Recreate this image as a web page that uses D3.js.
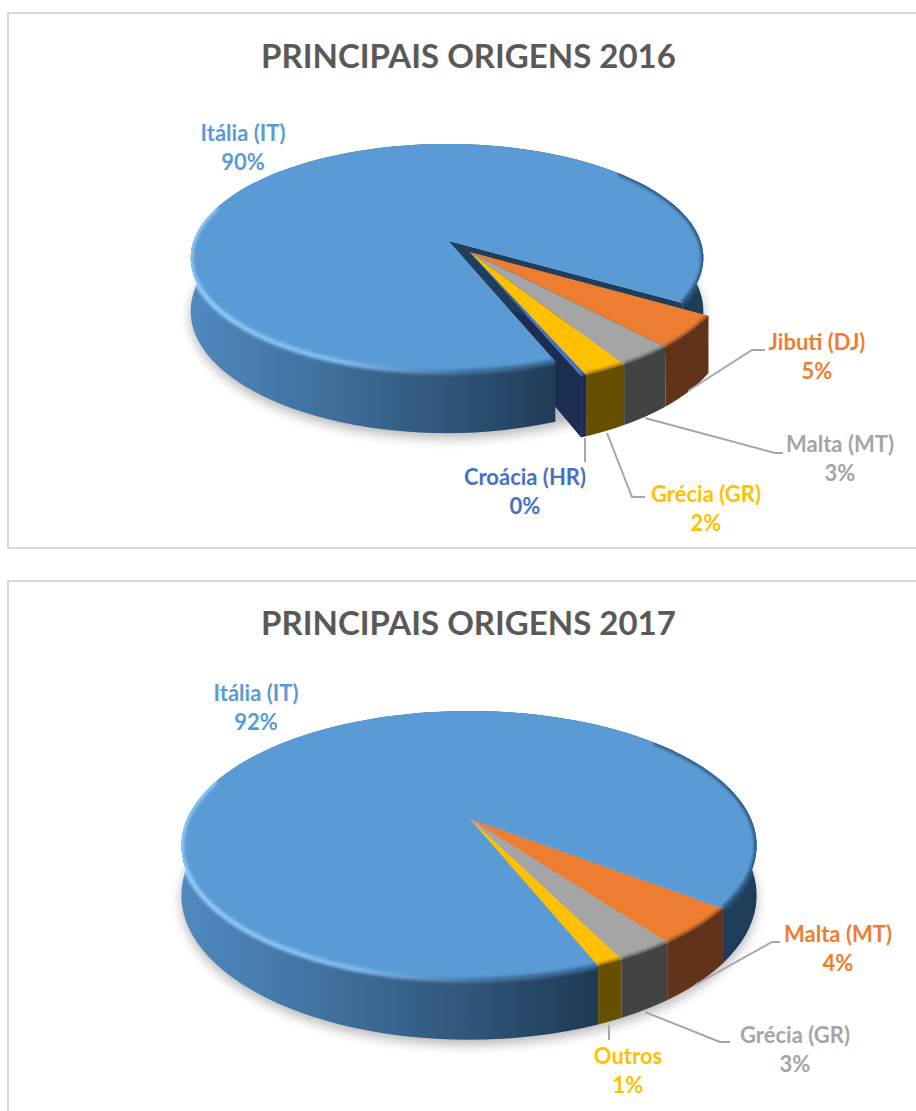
<!DOCTYPE html>
<html><head><meta charset="utf-8"><style>html,body{margin:0;padding:0;background:#fff;overflow:hidden}svg{display:block}text{font-family:Lato,"Open Sans",sans-serif;font-weight:700}</style>
<script src="https://cdn.jsdelivr.net/npm/d3@7"></script></head><body><script>
const title2016 = "PRINCIPAIS ORIGENS 2016";
const categories2016 = ["Itália (IT)", "Jibuti (DJ)", "Malta (MT)", "Grécia (GR)", "Croácia (HR)"];
const values2016 = [89.6, 4.6, 3.1, 2.4, 0.3];
const title2017 = "PRINCIPAIS ORIGENS 2017";
const categories2017 = ["Itália (IT)", "Malta (MT)", "Grécia (GR)", "Outros"];
const values2017 = [91.55, 4.45, 2.75, 1.25];

const topColors = ["#5b9bd5", "#ed7d31", "#a5a5a5", "#ffc000", "#4472c4"];
const wallColors = [null, "#60331a", "#434343", "#665000", "#1b2e52"];
const textColors2016 = ["#5b9bd5", "#ed7d31", "#a5a5a5", "#ffc000", "#4472c4"];
const textColors2017 = ["#5b9bd5", "#ed7d31", "#a5a5a5", "#ffc000"];

const svg = d3.select("body").append("svg").attr("width", 916).attr("height", 1111);
const defs = svg.append("defs");
defs.append("filter").attr("id","blurS").attr("filterUnits","userSpaceOnUse").attr("x",0).attr("y",0).attr("width",916).attr("height",1111).append("feGaussianBlur").attr("stdDeviation",1.6);
defs.append("filter").attr("id","blurL").attr("x","-10%").attr("y","-20%").attr("width","120%").attr("height","140%").append("feGaussianBlur").attr("stdDeviation",6);
const line = d3.line();
const pct = d3.format(".0%");
const deg = d => d * Math.PI / 180;

function panel(x, y, x2, y2, closedBottom) {
  const p = d3.path();
  p.moveTo(x2, y); p.lineTo(x, y); p.lineTo(x, y2);
  if (closedBottom) p.lineTo(x2, y2);
  svg.append("path").attr("d", p.toString()).attr("fill","none").attr("stroke","#d9d9d9").attr("stroke-width",2);
}

function drawPie(cfg, idx) {
  const {cx, cy, R, Rs, p, depth, startDeg, values, apexU} = cfg;
  const g = svg.append("g");
  const arcs = d3.pie().sort(null).value(d => d).startAngle(deg(startDeg)).endAngle(deg(startDeg + 360))(values);
  const ex = cfg.explode;
  const top = (a, r, s) => {
    const u = r * Math.sin(a) + s[0] + (r === 0 ? apexU : 0), v = -r * Math.cos(a) + s[1], w = 1 - p * v;
    return [cx + R * u / w, cy + Rs * v / w, depth / w];
  };
  const T = (a, r, s) => { const q = top(a, r, s); return [q[0], q[1]]; };
  const B = (a, r, s) => { const q = top(a, r, s); return [q[0], q[1] + q[2]]; };
  const samples = (a0, a1) => d3.range(0, 121).map(i => a0 + (a1 - a0) * i / 120);
  const band = (a0, a1, s) => line(samples(a0, a1).map(a => T(a, 1, s)).concat(samples(a0, a1).reverse().map(a => B(a, 1, s)))) + "Z";
  const sector = (a0, a1, s) => line([T(0, 0, s)].concat(samples(a0, a1).map(a => T(a, 1, s)))) + "Z";
  const radial = (a, s) => line([T(a, 0, s), T(a, 1, s), B(a, 1, s), B(a, 0, s)]) + "Z";
  const shiftOf = i => i === 0 ? [0, 0] : ex;
  const wallOf = i => wallColors[i === arcs.length - 1 && arcs.length === 4 ? 3 : i];

  const left = cx - R * 1.02, right = cx + R * 1.02;
  const gr = defs.append("linearGradient").attr("id", "wall" + idx).attr("gradientUnits","userSpaceOnUse")
    .attr("x1", left).attr("x2", right).attr("y1", 0).attr("y2", 0);
  [[0,"#5089c0"],[0.25,"#40719f"],[0.5,"#2f5679"],[0.72,"#1f3a56"],[1,"#1f3d5a"]].forEach(s => gr.append("stop").attr("offset", s[0]).attr("stop-color", s[1]));
  const bev = defs.append("linearGradient").attr("id", "bev" + idx).attr("gradientUnits","userSpaceOnUse")
    .attr("x1", left).attr("x2", right).attr("y1", 0).attr("y2", 0);
  [[0,"#93cbf8"],[0.3,"#80bcef"],[0.55,"#3f6f9c"],[1,"#2a5680"]].forEach(s => bev.append("stop").attr("offset", s[0]).attr("stop-color", s[1]));

  const aAll = d3.range(0, 181).map(i => i * 2 * Math.PI / 180);
  g.append("path").attr("d", line(aAll.map(a => { const q = B(a, 1, [0, 0]); return [q[0], q[1] + 5]; })) + "Z")
    .attr("fill","#000").attr("opacity",0.28).attr("filter","url(#blurL)");

  const blue = arcs[0];
  const last = arcs[arcs.length - 1];
  const exploded = ex[0] || ex[1];
  if (exploded) g.append("path").attr("d", radial(last.endAngle, ex)).attr("fill", wallOf(arcs.length - 1));
  g.append("path").attr("d", band(blue.startAngle, blue.endAngle, [0,0])).attr("fill", `url(#wall${idx})`);
  if (exploded) g.append("path").attr("d", radial(blue.endAngle, [0,0])).attr("fill", "#1f3e5b");
  g.append("path").attr("d", sector(blue.startAngle, blue.endAngle, [0,0])).attr("fill", topColors[0]);

  const clipId = "clipBlue" + idx;
  const clip = defs.append("clipPath").attr("id", clipId);
  clip.append("path").attr("d", band(blue.startAngle, blue.endAngle, [0,0]));
  clip.append("path").attr("d", sector(blue.startAngle, blue.endAngle, [0,0]));
  const bevelG = g.append("g").attr("clip-path", `url(#${clipId})`);
  [[blue.startAngle, deg(-72)], [deg(48), blue.endAngle]].forEach(r => {
    bevelG.append("path").attr("d", line(samples(r[0], r[1]).map(a => T(a, 1, [0,0]))))
      .attr("fill","none").attr("stroke", `url(#bev${idx})`).attr("stroke-width",5).attr("filter","url(#blurS)");
  });

  arcs.slice(1).forEach((d, k) => {
    const i = k + 1, s = shiftOf(i), cid = `clip${idx}_${i}`;
    const c = defs.append("clipPath").attr("id", cid);
    c.append("path").attr("d", band(d.startAngle, d.endAngle, s));
    c.append("path").attr("d", sector(d.startAngle, d.endAngle, s));
    g.append("path").attr("d", band(d.startAngle, d.endAngle, s)).attr("fill", wallOf(i));
    g.append("path").attr("d", sector(d.startAngle, d.endAngle, s)).attr("fill", topColors[i]);
    g.append("g").attr("clip-path", `url(#${cid})`).append("path")
      .attr("d", line(samples(d.startAngle, d.endAngle).map(a => T(a, 1, s))))
      .attr("fill","none").attr("stroke", wallOf(i)).attr("stroke-opacity",0.75).attr("stroke-width",4).attr("filter","url(#blurS)");
  });

  cfg.leaders.forEach(pts => svg.append("path").attr("d", line(pts)).attr("fill","none").attr("stroke","#a6a6a6").attr("stroke-width",2));
  const total = d3.sum(values);
  cfg.labelPos.forEach((pos, i) => {
    const t = svg.append("text").attr("text-anchor","middle").attr("font-size",cfg.labelSize).attr("fill",cfg.textColors[i]);
    t.append("tspan").attr("x",pos[0]).attr("y",pos[1]).text(cfg.categories[i]);
    t.append("tspan").attr("x",pos[0]).attr("y",pos[1]+29).text(pct(values[i]/total));
  });
  svg.append("text").attr("x",cfg.titleX).attr("y",cfg.titleY).attr("text-anchor","middle").attr("font-size",33).attr("fill","#595959").text(cfg.title);
}

panel(8, 13, 916, 548, true);
panel(8, 581, 916, 1111, false);

drawPie({
  title: title2016, titleX: 468.5, titleY: 68, categories: categories2016, values: values2016, textColors: textColors2016,
  cx: 447, cy: 241, R: 253.5, Rs: 111.5, p: 0.149, depth: 52, startDeg: -201.6, explode: [0.08, 0.096], apexU: 0.007, labelSize: 22,
  labelPos: [[243,141],[817,350],[840,452],[706,502],[525,485]],
  leaders: [[[688,391],[752,350],[765,350]],[[645,418],[775,453],[783,453]],[[585,438],[585,462]],[[607,433],[632,497],[645,497]]]
}, 1);

drawPie({
  title: title2017, titleX: 468.5, titleY: 635, categories: categories2017, values: values2017, textColors: textColors2017,
  cx: 469, cy: 819, R: 282, Rs: 129.3, p: 0.197, depth: 48, startDeg: -201.98, explode: [0, 0], apexU: 0.004, labelSize: 22,
  labelPos: [[256,701],[838,942],[795,1043],[628,1064]],
  leaders: [[[695,985],[772,942],[780,942]],[[645,1012],[720,1042],[730,1042]],[[609,1025],[609,1040]]]
}, 2);
</script></body></html>
